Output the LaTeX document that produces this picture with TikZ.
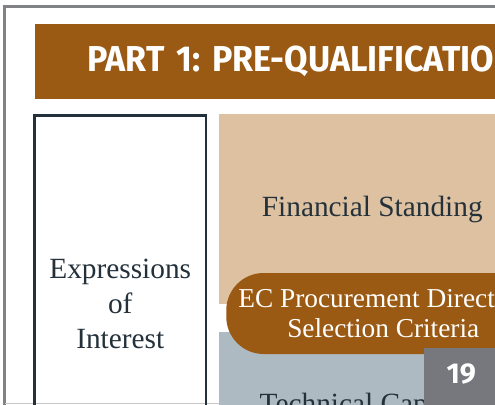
\documentclass[tikz,border=0pt]{standalone}
\usepackage{fontspec}
\setmainfont{Liberation Serif}
\newfontfamily\headfont{Fira Sans}[FakeStretch=0.945]
\newfontfamily\numfont{Fira Sans}
\definecolor{pagegray}{HTML}{808285}
\definecolor{barbrown}{HTML}{9A5A13}
\definecolor{tanfill}{HTML}{DEC1A1}
\definecolor{slatefill}{HTML}{ADBAC2}
\definecolor{numgray}{HTML}{76787D}
\definecolor{ink}{HTML}{24313A}
\frenchspacing

\begin{document}
\begin{tikzpicture}[x=0.75pt, y=-0.75pt,
  panel/.style={anchor=north west, inner sep=0pt, text=ink, align=center,
    font=\fontsize{22}{26}\selectfont},
  whitetext/.style={text=white, inner sep=0pt}]
\useasboundingbox[fill=white] (0,0) rectangle (495,404);
\clip (0,0) rectangle (495,404);
% page frame
\draw[pagegray, line width=2.25pt] (4.5,420) |- (520,6.5);
\draw[pagegray!45, line width=0.75pt] (4.5,403.5) -- (520,403.5);
% title bar
\node[whitetext, fill=barbrown, anchor=north west, minimum height=56.25pt,
  text width=360pt, inner xsep=39pt, font=\headfont\bfseries\fontsize{27}{30}\selectfont]
  (head) at (35,24) {PART 1: PRE-QUALIFICATION};
\node[panel, draw=ink, line width=1.9pt, minimum width=128.6pt, minimum height=282.75pt]
  (eoi) at (33.25,114.25) {Expressions\\of\\Interest};
\node[panel, fill=tanfill, minimum width=229.5pt, minimum height=142.5pt]
  (fin) at (219,114) {Financial Standing};
\node[panel, fill=slatefill, minimum width=229.5pt, minimum height=111pt]
  (tech) at (219,332) {Technical Capacity};
\node[whitetext, fill=barbrown, rounded corners=28pt, anchor=west, align=center,
  minimum width=235.5pt, minimum height=60.75pt, font=\fontsize{20.5}{22}\selectfont]
  (crit) at (226,313.5) {EC Procurement Directive\\Selection Criteria};
% page number
\node[whitetext, fill=numgray, anchor=north west, minimum width=55.5pt, minimum height=52.5pt,
  text height=15pt, text depth=15pt, font=\numfont\bfseries\fontsize{21.5}{24}\selectfont]
  (pg) at (424,348) {19};
\end{tikzpicture}
\end{document}
